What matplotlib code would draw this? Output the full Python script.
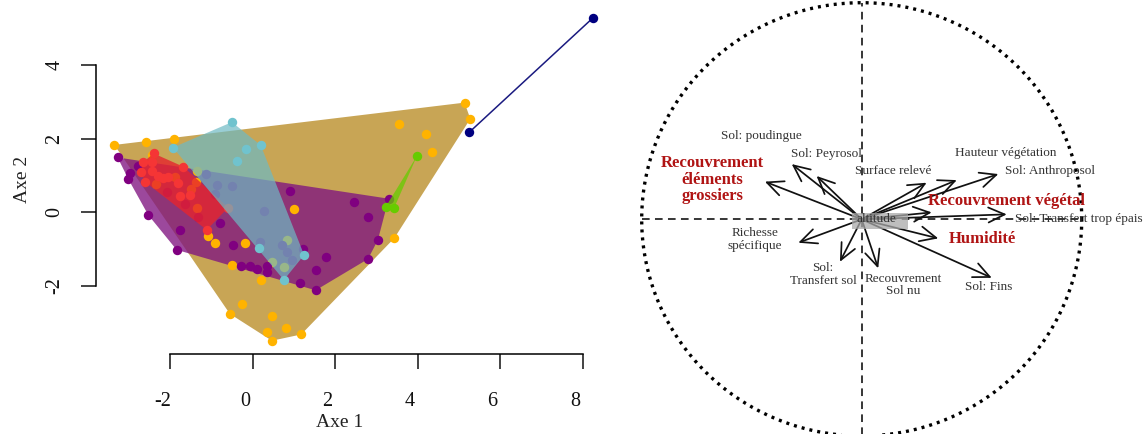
import numpy as np
import matplotlib.pyplot as plt
from matplotlib.patches import Rectangle
from matplotlib.transforms import ScaledTranslation

plt.rcParams['font.family'] = ['Liberation Serif', 'DejaVu Serif']
plt.rcParams['axes.unicode_minus'] = False

# ACP : coordonnees des releves (Axe 1, Axe 2) par groupe
orange_x = [-3.36, -2.59, -1.91, -2.45, -2.35, -1.89, -1.38, -1.51, -1.36, -1.36, -1.08, -0.92,
            -0.19, -0.51, 1.00, 0.19, -0.27, -0.56, 0.46, 0.80, 0.34, 0.46, 1.17, 0.83, 0.46,
            0.75, 5.13, 5.27, 3.55, 4.20, 4.33, 3.43]
orange_y = [1.83, 1.90, 1.99, 1.56, 0.76, 0.97, 0.82, 0.63, 0.13, 1.12, -0.64, -0.83,
            -0.83, -1.43, 0.08, -1.84, -2.49, -2.76, -2.81, -3.15, -3.26, -3.49, -3.32, -0.75, -1.34,
            -1.48, 2.98, 2.54, 2.40, 2.13, 1.63, -0.70]

purple_x = [-3.28, -2.79, -2.98, -3.02, -2.54, -1.76, -1.85, -0.80, -0.48, -0.29, -0.07, 0.11,
            0.33, 0.33, 1.13, 1.54, 1.52, 1.77, 0.89, 1.21, 2.44, 2.79, 3.03, 2.79, 3.29, -2.09,
            -1.65, -1.32, -1.15, -0.88, -0.51, -0.92, 0.26, 0.17, 0.71, 0.83, 0.95]
purple_y = [1.49, 1.27, 1.08, 0.90, -0.07, -0.47, -1.02, -0.30, -0.88, -1.45, -1.46, -1.53,
            -1.45, -1.62, -1.92, -1.58, -2.12, -1.21, 0.58, -1.01, 0.29, -0.12, -0.75, -1.27, 0.37, 0.54,
            0.22, -0.12, 1.03, 0.75, 0.72, 0.49, 0.03, -0.82, -0.88, -1.07, -1.30]

red_x = [-2.41, -2.66, -2.45, -2.72, -2.45, -2.62, -2.17, -2.06, -1.69, -1.81, -1.77, -1.52, -1.12, -0.60, -2.30]
red_y = [1.60, 1.36, 1.36, 1.09, 1.12, 0.83, 0.92, 0.95, 1.24, 0.79, 0.45, 0.47, -0.48, 0.13, 0.99]

cyan_x = [-1.94, -0.51, 0.19, -0.18, -0.39, 0.14, 1.24, 0.75]
cyan_y = [1.76, 2.45, 1.82, 1.72, 1.39, -0.97, -1.16, -1.84]

green_x = [3.98, 3.22, 3.42]
green_y = [1.54, 0.15, 0.11]

navy_x = [5.24, 8.24]
navy_y = [2.17, 5.28]

x_ticks = [-2, 0, 2, 4, 6, 8]
y_ticks = [-2, 0, 2, 4]

# cercle des correlations
arrow_x = [-0.44, -0.318, -0.205, 0.295, 0.432, 0.621, 0.318, 0.659, 0.348, 0.591, 0.075, -0.099, -0.288]
arrow_y = [0.174, 0.255, 0.20, 0.169, 0.181, 0.209, 0.032, 0.023, -0.088, -0.27, -0.226, -0.196, -0.108]

var_labels = ['Sol: poudingue', 'Sol: Peyrosol', 'Surface relevé', 'Hauteur végétation',
              'Sol: Anthroposol', 'Sol: Transfert trop épais', 'Sol: Fins', 'Recouvrement\nSol nu',
              'Sol:\nTransfert sol', 'Richesse\nspécifique']
var_lab_x = [-0.455, -0.159, 0.144, 0.656, 0.856, 0.985, 0.575, 0.188, -0.176, -0.485]
var_lab_y = [0.385, 0.30, 0.223, 0.307, 0.223, 0.0, -0.311, -0.302, -0.255, -0.093]

group_labels = ['Recouvrement\néléments\ngrossiers', 'Recouvrement végétal', 'Humidité']
group_lab_x = [-0.677, 0.659, 0.55]
group_lab_y = [0.183, 0.084, -0.092]


def convex_hull(x, y):
    pts = sorted(set(zip(x, y)))
    def cross(o, a, b):
        return (a[0] - o[0]) * (b[1] - o[1]) - (a[1] - o[1]) * (b[0] - o[0])
    lower, upper = [], []
    for p in pts:
        while len(lower) >= 2 and cross(lower[-2], lower[-1], p) <= 0:
            lower.pop()
        lower.append(p)
    for p in reversed(pts):
        while len(upper) >= 2 and cross(upper[-2], upper[-1], p) <= 0:
            upper.pop()
        upper.append(p)
    return np.array(lower[:-1] + upper[:-1])


fig = plt.figure(figsize=(11.46, 4.34), dpi=100)

# ---------- individus ----------
ax = fig.add_axes([96.2 / 1146, 80.4 / 434, 515.6 / 1146, 348.5 / 434])
ax.set_xlim(-3.8, 8.7)
ax.set_ylim(-3.84, 5.63)

s = 46
h = convex_hull(orange_x, orange_y)
ax.fill(h[:, 0], h[:, 1], color='#C8A555', lw=0, zorder=1)
h = convex_hull(purple_x, purple_y)
ax.fill(h[:, 0], h[:, 1], color=(0.5, 0.08, 0.5), alpha=0.78, lw=0, zorder=2)
ax.scatter(orange_x, orange_y, s=s, color='#FFB300', lw=0, zorder=3)
ax.scatter(purple_x, purple_y, s=s, color='#800080', lw=0, zorder=4)
h = convex_hull(red_x, red_y)
ax.fill(h[:, 0], h[:, 1], color=(0.9, 0.14, 0.18), alpha=0.8, lw=0, zorder=5)
ax.scatter(red_x, red_y, s=s, color='#F53535', lw=0, zorder=6)
h = convex_hull(cyan_x, cyan_y)
ax.fill(h[:, 0], h[:, 1], color=(0.43, 0.73, 0.77), alpha=0.7, lw=0, zorder=7)
ax.scatter(cyan_x, cyan_y, s=s, color='#70C3CE', lw=0, zorder=8)
h = convex_hull(green_x, green_y)
ax.fill(h[:, 0], h[:, 1], color='#66CC00', alpha=0.75, lw=0, zorder=9)
ax.scatter(green_x, green_y, s=s, color='#66CC00', lw=0, zorder=10)
ax.plot(navy_x, navy_y, color='#1A1A80', lw=1.1, zorder=11)
ax.scatter(navy_x, navy_y, s=s, color='#000080', lw=0, zorder=12)

for side in ['top', 'right']:
    ax.spines[side].set_visible(False)
ax.spines['left'].set_bounds(-2, 4)
ax.spines['bottom'].set_bounds(-2, 8)
ax.spines['left'].set_linewidth(1.1)
ax.spines['bottom'].set_linewidth(1.1)
ax.set_xticks(x_ticks)
ax.set_xticklabels([str(v) for v in x_ticks])
ax.set_yticks(y_ticks)
ax.set_yticklabels([str(v) for v in y_ticks])
ax.tick_params(direction='out', length=10.8, width=1.1, labelsize=14.5, colors='#111111')
ax.tick_params(axis='x', pad=17)
ax.tick_params(axis='y', pad=12, labelrotation=90)
for lab in ax.get_yticklabels():
    lab.set_va('center')
shift = ScaledTranslation(-8 / 100, 0, fig.dpi_scale_trans)
for lab in ax.get_xticklabels():
    lab.set_transform(lab.get_transform() + shift)

ax.set_xlabel('Axe 1', fontsize=14, color='#222222')
ax.xaxis.label.set_va('center')
ax.xaxis.set_label_coords(0.473, -0.198)
ax.set_ylabel('Axe 2', fontsize=14, color='#222222')
ax.yaxis.label.set_va('center')
ax.yaxis.set_label_coords(-0.143, 0.5)

# ---------- variables ----------
ax2 = fig.add_axes([630 / 1146, 0, 516 / 1146, 1])
ax2.set_xlim(-1.053, 1.292)
ax2.set_ylim(-0.991, 1.0125)
ax2.axis('off')

t = np.linspace(0, 2 * np.pi, 500)
ax2.plot(np.cos(t), np.sin(t), color='black', lw=2.4, ls=(0, (0.9, 1.5)))
ax2.plot([-1, 1], [0, 0], color='black', lw=1.1, ls=(0, (5, 3.5)))
ax2.plot([0, 0], [-1, 1], color='black', lw=1.1, ls=(0, (5, 3.5)))

for ex, ey in zip(arrow_x, arrow_y):
    ax2.annotate('', xy=(ex, ey), xytext=(0, 0),
                 arrowprops=dict(arrowstyle='->,head_length=0.65,head_width=0.3',
                                 lw=1.25, color='#111111', shrinkA=0, shrinkB=0,
                                 mutation_scale=18))

ax2.add_patch(Rectangle((-0.045, -0.046), 0.257, 0.074, color='#A8A8A8', alpha=0.75, lw=0, zorder=5))
ax2.text(0.068, 0.0, 'altitude', fontsize=9.5, color='#333333', ha='center', va='center', zorder=6)

for lab, lx, ly in zip(var_labels, var_lab_x, var_lab_y):
    ax2.text(lx, ly, lab, fontsize=9.5, color='#333333', ha='center', va='center',
             linespacing=1.05, zorder=6)
for lab, lx, ly in zip(group_labels, group_lab_x, group_lab_y):
    ax2.text(lx, ly, lab, fontsize=12, color='#B01414', fontweight='bold', ha='center',
             va='center', linespacing=1.05, zorder=6)

fig.savefig('out.png', dpi=100)
